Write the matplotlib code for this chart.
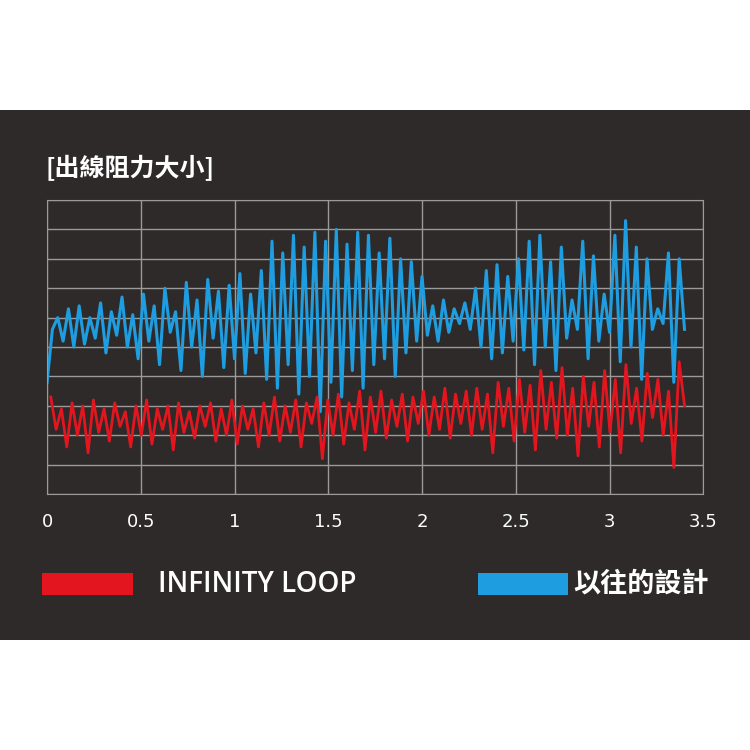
import matplotlib
matplotlib.use("Agg")
import matplotlib.pyplot as plt
import numpy as np
from matplotlib.patches import Rectangle

title = "[出線阻力大小]"
xticks = [0, 0.5, 1, 1.5, 2, 2.5, 3, 3.5]
xtick_labels = ["0", "0.5", "1", "1.5", "2", "2.5", "3", "3.5"]
label_red = "INFINITY LOOP"
label_blue = "以往的設計"

blue = [3.8, 5.6, 6.0, 5.2, 6.3, 5.0, 6.4, 5.1, 6.0, 5.3, 6.5, 4.8, 6.2, 5.4, 6.7, 5.0, 6.1, 4.6, 6.8, 5.2,
        6.4, 4.4, 7.0, 5.5, 6.2, 4.2, 7.2, 5.0, 6.6, 4.0, 7.3, 5.3, 6.9, 4.3, 7.1, 4.6, 7.5, 4.1, 6.8, 4.8,
        7.6, 3.9, 8.6, 3.6, 8.2, 4.4, 8.8, 3.4, 8.4, 4.0, 8.9, 2.8, 8.6, 3.8, 9.0, 3.3, 8.5, 4.2, 8.9, 3.6,
        8.8, 4.4, 8.2, 4.6, 8.7, 4.0, 8.0, 4.8, 7.9, 5.2, 7.4, 5.4, 6.4, 5.2, 6.6, 5.5, 6.3, 5.8, 6.5, 5.6,
        7.0, 5.0, 7.6, 4.6, 7.8, 4.8, 7.4, 5.2, 8.0, 4.9, 8.6, 4.4, 8.8, 5.0, 7.9, 4.2, 8.4, 5.3, 6.6, 5.6,
        8.6, 4.6, 8.1, 5.2, 6.8, 5.5, 8.8, 4.5, 9.3, 5.0, 8.4, 3.9, 8.0, 5.6, 6.3, 5.8, 8.2, 3.8, 8.0, 5.6]
red = [3.3, 2.2, 2.9, 1.6, 3.1, 2.0, 3.0, 1.4, 3.2, 2.1, 2.9, 1.8, 3.1, 2.3, 2.8, 1.6, 3.0, 2.0, 3.2, 1.7,
       2.9, 2.2, 3.0, 1.5, 3.1, 2.1, 2.8, 1.9, 3.0, 2.3, 3.1, 1.8, 2.9, 2.0, 3.2, 1.7, 3.0, 2.2, 2.9, 1.6,
       3.1, 2.0, 3.3, 1.8, 3.0, 2.1, 3.2, 1.6, 3.1, 2.4, 3.3, 1.2, 3.2, 2.0, 3.4, 1.7, 3.1, 2.2, 3.5, 1.5,
       3.3, 2.1, 3.5, 1.9, 3.2, 2.3, 3.4, 1.8, 3.3, 2.4, 3.5, 2.0, 3.3, 2.2, 3.6, 1.9, 3.4, 2.4, 3.5, 2.0,
       3.6, 2.2, 3.4, 1.4, 3.8, 2.3, 3.6, 1.8, 3.9, 2.1, 3.7, 1.5, 4.2, 2.2, 3.8, 1.9, 4.3, 2.0, 3.6, 1.3,
       4.0, 2.3, 3.8, 1.6, 4.2, 2.1, 3.9, 1.4, 4.4, 2.4, 3.6, 1.8, 4.1, 2.6, 3.9, 2.0, 3.5, 0.9, 4.5, 3.0]

fig = plt.figure(figsize=(7.5, 7.5), dpi=100, facecolor="white")
bg = fig.add_axes([0, 0.1467, 1, 0.7066], zorder=0)
bg.set_facecolor("#2d2a29")
bg.set_axis_off()
bg.add_patch(Rectangle((0, 0), 1, 1, transform=bg.transAxes, facecolor="#2d2a29", edgecolor="none"))

ax = fig.add_axes([0.0627, 0.3413, 0.875, 0.392], zorder=2)
ax.set_facecolor("#2d2a29")
xb = np.linspace(0, 3.4, len(blue))
xr = np.linspace(0.02, 3.4, len(red))
ax.plot(xb, blue, color="#1e9ee0", lw=2.2)
ax.plot(xr, red, color="#e3161f", lw=2.0)
ax.set_xlim(0, 3.5)
ax.set_ylim(0, 10)
ax.set_yticks(range(11))
ax.set_xticks(xticks)
ax.set_xticklabels(xtick_labels)
ax.tick_params(axis="y", left=False, labelleft=False)
ax.tick_params(axis="x", bottom=False, colors="white", labelsize=13, pad=10)
ax.grid(True, color="#9a9a9a", lw=1)
for s in ax.spines.values():
    s.set_color("#9a9a9a")
ax.set_axisbelow(True)

cjk = ["Noto Sans CJK TC", "DejaVu Sans"]
fig.text(0.061, 0.776, title, color="white", fontsize=18, family=cjk, fontweight="bold", va="center", zorder=3)
fig.patches.append(Rectangle((0.056, 0.207), 0.121, 0.029, transform=fig.transFigure,
                             facecolor="#e3161f", edgecolor="none", zorder=3))
fig.patches.append(Rectangle((0.637, 0.207), 0.120, 0.029, transform=fig.transFigure,
                             facecolor="#1e9ee0", edgecolor="none", zorder=3))
fig.text(0.21, 0.221, label_red, color="white", fontsize=20, family=["Open Sans", "DejaVu Sans"],
         fontweight="semibold", va="center", zorder=3)
fig.text(0.765, 0.221, label_blue, color="white", fontsize=19.5, family=cjk, fontweight="bold", va="center", zorder=3)
fig.savefig("out.png", dpi=100, facecolor="white")
